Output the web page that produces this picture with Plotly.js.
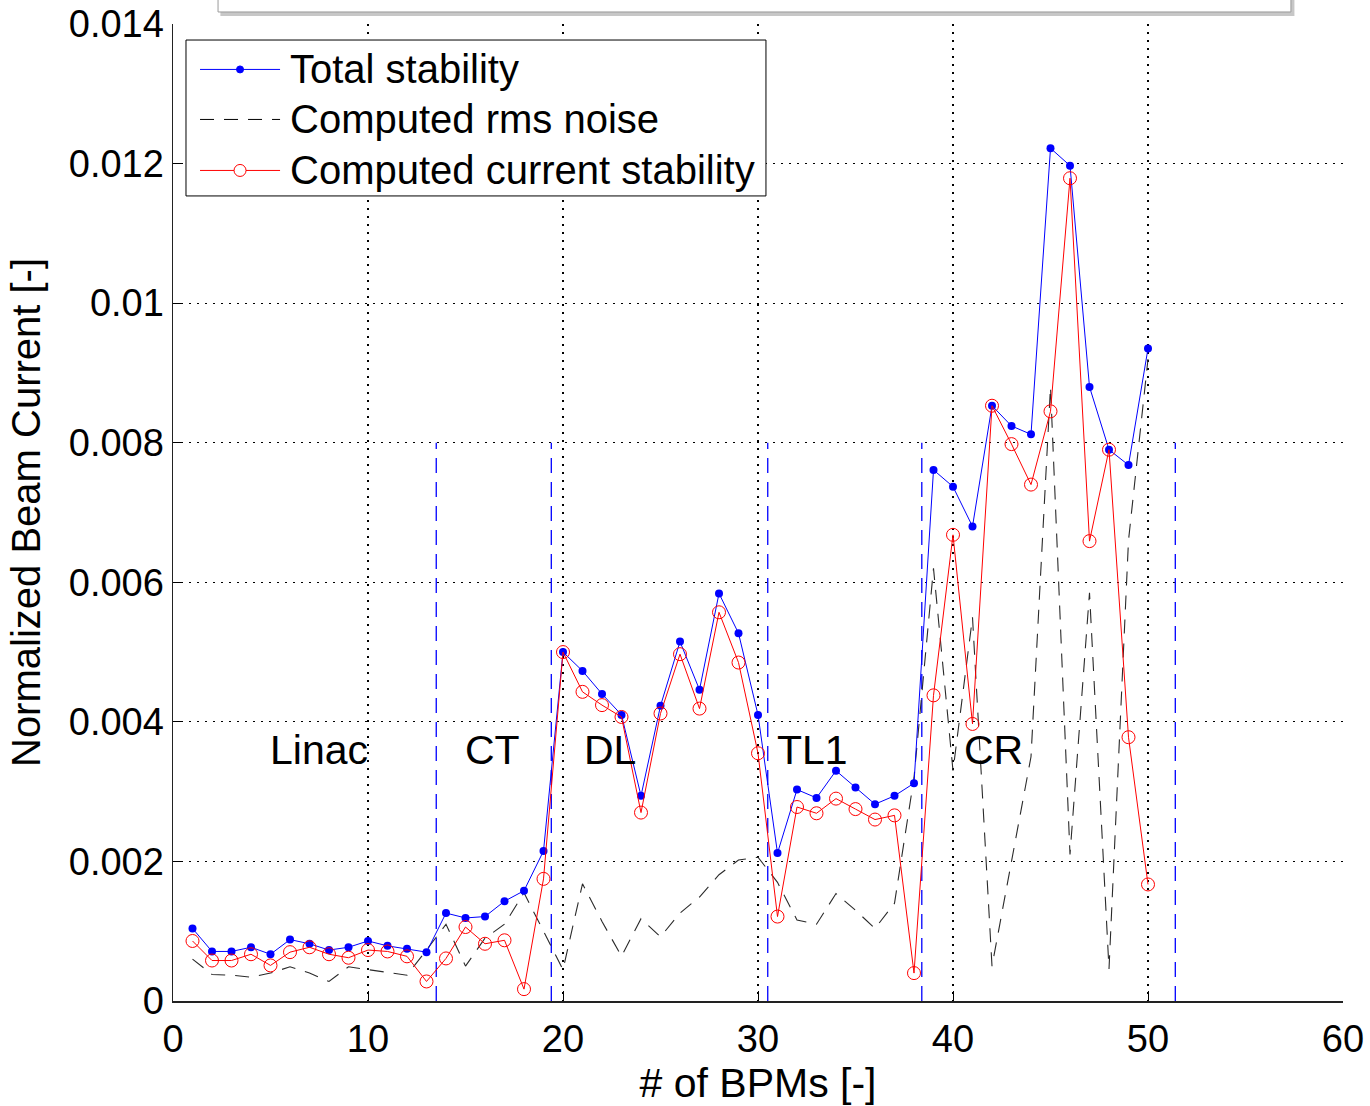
<!DOCTYPE html>
<html><head><meta charset="utf-8">
<script src="https://cdn.plot.ly/plotly-3.0.1.min.js"></script>
<style>html,body{margin:0;padding:0;background:#fff}#chart{width:1370px;height:1106px}</style>
</head><body><div id="chart"></div>
<script>
const bpm = [1,2,3,4,5,6,7,8,9,10,11,12,13,14,15,16,17,18,19,20,21,22,23,24,25,26,27,28,29,30,31,32,33,34,35,36,37,38,39,40,41,42,43,44,45,46,47,48,49,50];
const totalStability = [0.00104,0.00071,0.00071,0.00077,0.00067,0.00088,0.00082,0.00073,0.00077,0.00086,0.00079,0.00075,0.00070,0.00126,0.00119,0.00121,0.00143,0.00158,0.00215,0.00500,0.00473,0.00440,0.00410,0.00294,0.00423,0.00515,0.00446,0.00584,0.00527,0.00410,0.00212,0.00303,0.00291,0.00330,0.00306,0.00282,0.00294,0.00312,0.00761,0.00737,0.00680,0.00853,0.00824,0.00812,0.01222,0.01197,0.00880,0.00790,0.00768,0.00935];
const rmsNoise = [0.00060,0.00038,0.00037,0.00034,0.00040,0.00049,0.00040,0.00028,0.00049,0.00045,0.00041,0.00037,0.00073,0.00110,0.00050,0.00090,0.00110,0.00155,0.00100,0.00045,0.00168,0.00114,0.00064,0.00118,0.00092,0.00126,0.00149,0.00181,0.00202,0.00206,0.00170,0.00116,0.00110,0.00154,0.00130,0.00104,0.00140,0.00320,0.00620,0.00330,0.00550,0.00050,0.00200,0.00350,0.00880,0.00210,0.00585,0.00046,0.00660,0.00920];
const currentStability = [0.00086,0.00058,0.00058,0.00067,0.00051,0.00070,0.00077,0.00067,0.00062,0.00073,0.00071,0.00064,0.00028,0.00061,0.00106,0.00082,0.00087,0.00017,0.00175,0.00500,0.00443,0.00424,0.00407,0.00270,0.00412,0.00497,0.00419,0.00557,0.00485,0.00355,0.00121,0.00278,0.00269,0.00290,0.00275,0.00260,0.00266,0.00040,0.00438,0.00668,0.00397,0.00853,0.00798,0.00740,0.00845,0.01179,0.00659,0.00790,0.00378,0.00167];
const seriesNames = ['Total stability','Computed rms noise','Computed current stability'];
const sectionBounds = [13.5, 19.4, 30.5, 38.4, 51.4];
const sectionTop = 0.008;
const regionNames = ['Linac','CT','DL','TL1','CR'];
const regionX = [7.5, 16.4, 22.4, 32.8, 42.1];
const regionY = [0.0036, 0.0036, 0.0036, 0.0036, 0.0036];
const xTicks = [0,10,20,30,40,50,60];
const yTicks = [0,0.002,0.004,0.006,0.008,0.010,0.012,0.014];
const yTickText = ['0','0.002','0.004','0.006','0.008','0.01','0.012','0.014'];
const xTitle = '# of BPMs [-]';
const yTitle = 'Normalized Beam Current [-]';

const FONT = 'Liberation Sans, Arial, Helvetica, sans-serif';
const BLUE = '#0000ff', RED = '#ff0000', GREY = '#2a2a2a';

const traces = [
  {x: sectionBounds.flatMap(b => [b, b, null]), y: sectionBounds.flatMap(() => [0, sectionTop, null]),
   mode: 'lines', line: {color: BLUE, width: 1.3, dash: '15px,9px'}, hoverinfo: 'skip', showlegend: false},
  {x: bpm, y: rmsNoise, name: seriesNames[1], mode: 'lines',
   line: {color: GREY, width: 1.1, dash: '14px,10px'}, showlegend: false},
  {x: bpm, y: totalStability, name: seriesNames[0], mode: 'lines+markers',
   line: {color: BLUE, width: 1}, marker: {color: BLUE, size: 8, symbol: 'circle'}, showlegend: false},
  {x: bpm, y: currentStability, name: seriesNames[2], mode: 'lines+markers',
   line: {color: RED, width: 1}, marker: {color: RED, size: 13, symbol: 'circle-open', line: {width: 1}}, showlegend: false}
];

// legend (drawn by hand to match the MATLAB style)
const lgX0 = 0.0111, lgX1 = 0.5068, lgY0 = 0.824, lgY1 = 0.9836;
const rowY = [0.9535, 0.9023, 0.8501];
const symX0 = 0.0231, symX1 = 0.0915, symXc = 0.0573, txtX = 0.0985;
const shapes = [
  // cut-off slide title box
  {type:'rect', xref:'paper', yref:'paper', x0:0.0405, x1:0.9585, y0:1.0082, y1:1.08, fillcolor:'rgba(0,0,0,0.22)', line:{width:0}, layer:'above'},
  {type:'rect', xref:'paper', yref:'paper', x0:0.0385, x1:0.9555, y0:1.0123, y1:1.08, fillcolor:'#ffffff', line:{color:'#9a9a9a', width:1}, layer:'above'},
  {type:'rect', xref:'paper', yref:'paper', x0:lgX0, x1:lgX1, y0:lgY0, y1:lgY1, fillcolor:'#ffffff', line:{color:'#000', width:1}, layer:'above'},
  {type:'line', xref:'paper', yref:'paper', x0:symX0, x1:symX1, y0:rowY[0], y1:rowY[0], line:{color:BLUE, width:1}, layer:'above'},
  {type:'circle', xref:'paper', yref:'paper', xsizemode:'pixel', ysizemode:'pixel', xanchor:symXc, yanchor:rowY[0], x0:-3.5, x1:3.5, y0:-3.5, y1:3.5, fillcolor:BLUE, line:{color:BLUE, width:1}, layer:'above'},
  {type:'line', xref:'paper', yref:'paper', x0:symX0, x1:symX1, y0:rowY[1], y1:rowY[1], line:{color:'#000', width:1, dash:'14px,10px'}, layer:'above'},
  {type:'line', xref:'paper', yref:'paper', x0:symX0, x1:symX1, y0:rowY[2], y1:rowY[2], line:{color:RED, width:1}, layer:'above'},
  {type:'circle', xref:'paper', yref:'paper', xsizemode:'pixel', ysizemode:'pixel', xanchor:symXc, yanchor:rowY[2], x0:-6, x1:6, y0:-6, y1:6, fillcolor:'#ffffff', line:{color:RED, width:1}, layer:'above'}
];

const annotations = seriesNames.map((t, i) => ({
  xref:'paper', yref:'paper', x:txtX, y:rowY[i], xanchor:'left', yanchor:'middle', showarrow:false,
  text:t, font:{family:FONT, size:40, color:'#000'}
})).concat(regionNames.map((t, i) => ({
  xref:'x', yref:'y', x:regionX[i], y:regionY[i], xanchor:'center', yanchor:'middle', showarrow:false,
  text:t, font:{family:FONT, size:41, color:'#000'}
})));

const gridStyle = {showgrid:true, gridcolor:'#000', gridwidth:1.2, griddash:'2px,6px', zeroline:false};
const layout = {
  width:1370, height:1106,
  margin:{l:173, r:27, t:24, b:105},
  paper_bgcolor:'#fff', plot_bgcolor:'#fff',
  font:{family:FONT, color:'#000'},
  showlegend:false,
  xaxis: Object.assign({range:[0,60], tickmode:'array', tickvals:xTicks, ticks:'inside', ticklen:10, tickwidth:1, tickcolor:'#000',
    showline:true, linecolor:'#222', linewidth:1.5, tickfont:{family:FONT, size:38}, ticklabelstandoff:4,
    title:{text:xTitle, font:{family:FONT, size:41}, standoff:12}}, gridStyle),
  yaxis: Object.assign({range:[0,0.014], tickmode:'array', tickvals:yTicks, ticktext:yTickText, ticks:'inside', ticklen:10, tickwidth:1, tickcolor:'#000',
    showline:true, linecolor:'#222', linewidth:1.5, tickfont:{family:FONT, size:38},
    title:{text:yTitle, font:{family:FONT, size:40}, standoff:16}}, gridStyle),
  xaxis2: {overlaying:'x', side:'top', anchor:'y', range:[0,60], tickmode:'array', tickvals:xTicks, ticks:'inside', ticklen:10, tickcolor:'#000',
    showticklabels:false, showgrid:false, zeroline:false, showline:false},
  yaxis2: {overlaying:'y', side:'right', anchor:'x', range:[0,0.014], tickmode:'array', tickvals:yTicks, ticks:'inside', ticklen:10, tickcolor:'#000',
    showticklabels:false, showgrid:false, zeroline:false, showline:false},
  shapes: shapes,
  annotations: annotations
};

Plotly.newPlot('chart', traces, layout, {displayModeBar:false, staticPlot:true});
</script>
</body></html>
